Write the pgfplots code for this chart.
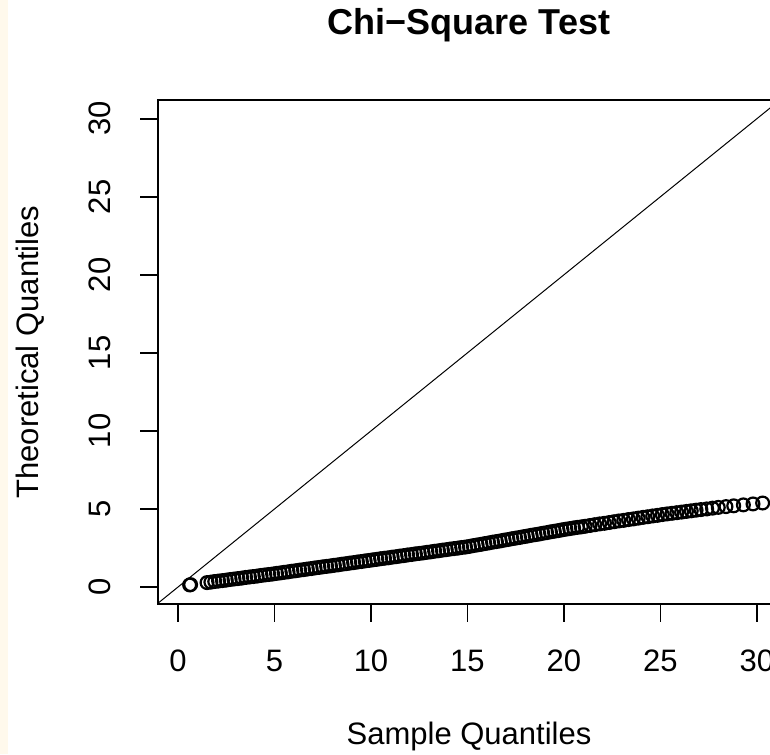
\documentclass[border=0pt]{standalone}
\usepackage{pgfplots}
\pgfplotsset{compat=1.18}
\usepackage{fontspec}
\setmainfont{Liberation Sans}
\definecolor{cream}{HTML}{FFF9EC}
\pgfplotstableread{
x y
0.60 0.13
0.65 0.15
1.5 0.28
1.7 0.31
1.9 0.35
2.1 0.38
2.3 0.41
2.5 0.44
2.7 0.48
2.9 0.51
3.1 0.54
3.3 0.57
3.5 0.61
3.7 0.64
3.9 0.67
4.1 0.70
4.3 0.74
4.5 0.77
4.7 0.80
4.9 0.83
5.1 0.87
5.3 0.90
5.5 0.94
5.7 0.97
5.9 1.01
6.1 1.04
6.3 1.08
6.5 1.11
6.7 1.15
6.9 1.18
7.1 1.22
7.3 1.25
7.5 1.29
7.7 1.32
7.9 1.35
8.1 1.39
8.3 1.42
8.5 1.46
8.7 1.49
8.9 1.53
9.1 1.56
9.3 1.60
9.5 1.63
9.7 1.67
9.9 1.70
10.1 1.74
10.3 1.77
10.5 1.81
10.7 1.84
10.9 1.87
11.1 1.91
11.3 1.94
11.5 1.98
11.7 2.01
11.9 2.05
12.1 2.08
12.3 2.12
12.5 2.15
12.7 2.18
12.9 2.22
13.1 2.25
13.3 2.29
13.5 2.32
13.7 2.36
13.9 2.39
14.1 2.43
14.3 2.46
14.5 2.49
14.7 2.53
14.9 2.56
15.1 2.60
15.3 2.65
15.5 2.69
15.7 2.73
15.9 2.78
16.1 2.82
16.3 2.87
16.5 2.91
16.7 2.95
16.9 3.00
17.1 3.04
17.3 3.09
17.5 3.13
17.7 3.17
17.9 3.22
18.1 3.26
18.3 3.31
18.5 3.35
18.7 3.39
18.9 3.44
19.1 3.48
19.3 3.53
19.5 3.57
19.7 3.61
19.9 3.66
20.1 3.70
20.3 3.74
20.5 3.78
20.7 3.82
20.9 3.85
21.1 3.89
21.35 3.94
21.6 3.99
21.85 4.04
22.1 4.08
22.35 4.13
22.6 4.18
22.85 4.23
23.1 4.27
23.35 4.32
23.6 4.36
23.85 4.41
24.1 4.46
24.35 4.50
24.6 4.55
24.85 4.59
25.1 4.64
25.35 4.68
25.6 4.72
25.85 4.76
26.1 4.80
26.35 4.84
26.6 4.88
26.85 4.92
27.1 4.96
27.4 5.00
27.7 5.05
28.0 5.10
28.4 5.15
28.8 5.20
29.3 5.26
29.8 5.32
30.3 5.38
}\qqdata
\begin{document}
\begin{tikzpicture}
\useasboundingbox (0,0) rectangle (385pt,377pt);
\clip (0,0) rectangle (385pt,377pt);
\fill[cream] (0,0) rectangle (4pt,377pt);
\begin{axis}[
  at={(79pt,75pt)}, anchor=south west,
  scale only axis, width=311pt, height=252pt,
  xmin=-1.04, xmax=31.2, ymin=-1.09, ymax=31.2,
  axis line style={line width=0.9pt},
  xtick={0,5,...,30}, ytick={0,5,...,30},
  xtick pos=bottom, ytick pos=left,
  tick align=outside, major tick length=9pt,
  tick style={line width=0.8pt, black},
  /pgf/number format/assume math mode=true,
  ticklabel style={font=\fontsize{15.5}{18}\selectfont},
  xticklabel style={anchor=center, yshift=-19.5pt},
  yticklabel style={xshift=-20pt, rotate=90, anchor=center},
  every axis x label/.style={at={(rel axis cs:0.5,0)}, anchor=center, yshift=-66pt, font=\fontsize{15.5}{18}\selectfont},
  every axis y label/.style={at={(rel axis cs:0,0.5)}, xshift=-64pt, rotate=90, anchor=center, font=\fontsize{15.5}{18}\selectfont},
  xlabel={Sample Quantiles},
  ylabel={Theoretical Quantiles},
  title={Chi−Square Test},
  every axis title/.style={at={(rel axis cs:0.5,1)}, anchor=center, yshift=37.5pt, font=\bfseries\fontsize{18}{21}\selectfont},
]
\addplot[black, line width=0.5pt] coordinates {(-2,-2) (33,33)};
\addplot[only marks, mark=o, mark size=3.2pt, mark options={line width=1.1pt, black}] table[x=x,y=y] {\qqdata};
\end{axis}
\end{tikzpicture}
\end{document}
